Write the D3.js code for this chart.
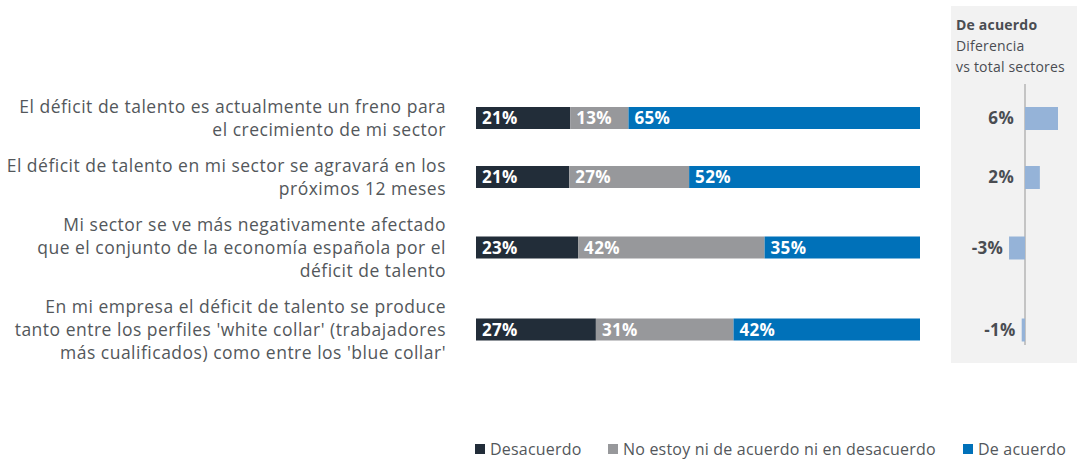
<!DOCTYPE html>
<html lang="es">
<head>
  <meta charset="UTF-8">
  <title>Déficit de talento</title>
  <script src="https://d3js.org/d3.v7.min.js"></script>
  <style>
    html, body {
      margin: 0;
      padding: 0;
      background: #fff;
    }
    svg text {
      font-family: "Open Sans", "Noto Sans", sans-serif;
    }
  </style>
</head>
<body>
  <div id="chart"></div>

  <script>
    // statements, one array of lines each
    const statements = [
      ["El déficit de talento es actualmente un freno para", "el crecimiento de mi sector"],
      ["El déficit de talento en mi sector se agravará en los", "próximos 12 meses"],
      ["Mi sector se ve más negativamente afectado", "que el conjunto de la economía española por el", "déficit de talento"],
      ["En mi empresa el déficit de talento se produce", "tanto entre los perfiles 'white collar' (trabajadores", "más cualificados) como entre los 'blue collar'"]
    ];
    const seriesNames = ["Desacuerdo", "No estoy ni de acuerdo ni en desacuerdo", "De acuerdo"];
    const desacuerdo = [21, 21, 23, 27];
    const neutral = [13, 27, 42, 31];
    const deAcuerdo = [65, 52, 35, 42];
    // "De acuerdo" difference vs all sectors (bar length estimated, label as printed)
    const diffValues = [6.0, 2.7, -2.9, -0.6];
    const diffLabels = ["6%", "2%", "-3%", "-1%"];

    const colors = ["#222d39", "#97989b", "#0071b9"];
    const textColor = "#53575b";

    const width = 1079, height = 460;
    const svg = d3.select("#chart").append("svg")
      .attr("width", width)
      .attr("height", height);

    // rows get taller with more label lines
    const lineH = 23, rowPad = 13;
    const rowH = statements.map(s => s.length * lineH + rowPad);
    const centers = [];
    let acc = 0;
    rowH.forEach((h, i) => { centers.push(acc + h / 2); acc += h; });
    const y = d3.scaleLinear().domain([0, centers[0]]).range([118 - centers[0], 118]);
    const barH = 22;

    const x = d3.scaleLinear().domain([0, 1]).range([476, 920]);

    const rows = statements.map((s, i) => {
      const vals = [desacuerdo[i], neutral[i], deAcuerdo[i]];
      const total = d3.sum(vals);
      let start = 0;
      const segs = vals.map((v, k) => {
        const seg = { k, v, x0: start / total, x1: (start + v) / total };
        start += v;
        return seg;
      });
      return { i, lines: s, segs, cy: y(centers[i]) };
    });

    // right panel background
    svg.append("rect")
      .attr("x", 951).attr("y", 6)
      .attr("width", 126).attr("height", 357)
      .attr("fill", "#f2f2f2");

    const head = svg.append("text")
      .attr("x", 956).attr("y", 30)
      .attr("font-size", 14)
      .attr("letter-spacing", 0.2)
      .attr("fill", "#4a4d52");
    head.append("tspan").attr("font-weight", "bold").text("De acuerdo");
    head.append("tspan").attr("x", 956).attr("dy", 21).text("Diferencia");
    head.append("tspan").attr("x", 956).attr("dy", 21).text("vs total sectores");

    // statement labels
    const labels = svg.selectAll(".label")
      .data(rows)
      .join("text")
      .attr("class", "label")
      .attr("text-anchor", "end")
      .attr("font-size", 17.5)
      .attr("letter-spacing", 0.5)
      .attr("fill", textColor);
    labels.selectAll("tspan")
      .data(d => d.lines.map((l, j) => ({ l, j, n: d.lines.length, cy: d.cy })))
      .join("tspan")
      .attr("x", 446)
      .attr("y", d => d.cy + 6 + (d.j - (d.n - 1) / 2) * lineH)
      .text(d => d.l);

    // stacked bars
    const row = svg.selectAll(".row")
      .data(rows)
      .join("g")
      .attr("class", "row");

    row.selectAll("rect")
      .data(d => d.segs.map(s => ({ ...s, cy: d.cy })))
      .join("rect")
      .attr("x", d => x(d.x0))
      .attr("y", d => d.cy - barH / 2)
      .attr("width", d => x(d.x1) - x(d.x0))
      .attr("height", barH)
      .attr("fill", d => colors[d.k]);

    row.selectAll("text")
      .data(d => d.segs.map(s => ({ ...s, cy: d.cy })))
      .join("text")
      .attr("x", d => x(d.x0) + 6)
      .attr("y", d => d.cy + 6)
      .attr("font-size", 17)
      .attr("letter-spacing", 0.3)
      .attr("font-weight", "bold")
      .attr("fill", "#fff")
      .text(d => d.v + "%");

    // difference panel
    const xd = d3.scaleLinear().domain([0, 6]).range([1025, 1058]);

    svg.append("line")
      .attr("x1", xd(0)).attr("x2", xd(0))
      .attr("y1", 84).attr("y2", 345)
      .attr("stroke", "#c4c4c4")
      .attr("stroke-width", 2);

    svg.selectAll(".diff")
      .data(rows)
      .join("rect")
      .attr("class", "diff")
      .attr("x", d => xd(Math.min(0, diffValues[d.i])))
      .attr("y", d => d.cy - barH / 2)
      .attr("width", d => Math.abs(xd(diffValues[d.i]) - xd(0)))
      .attr("height", barH + 1)
      .attr("fill", "#95b3d8");

    svg.selectAll(".diffLabel")
      .data(rows)
      .join("text")
      .attr("class", "diffLabel")
      .attr("text-anchor", "end")
      .attr("x", d => diffValues[d.i] >= 0 ? xd(0) - 11 : xd(diffValues[d.i]) - 6)
      .attr("y", d => d.cy + 6)
      .attr("font-size", 17)
      .attr("letter-spacing", 0.3)
      .attr("font-weight", "bold")
      .attr("fill", "#4a4d52")
      .text(d => diffLabels[d.i]);

    // legend
    const legendX = [475, 608, 963];
    const legend = svg.selectAll(".legend")
      .data(seriesNames)
      .join("g")
      .attr("class", "legend")
      .attr("transform", (d, i) => `translate(${legendX[i]},449)`);
    legend.append("rect")
      .attr("x", 0).attr("y", -5)
      .attr("width", 10).attr("height", 10)
      .attr("fill", (d, i) => colors[i]);
    legend.append("text")
      .attr("x", 15).attr("y", 5.5)
      .attr("font-size", 16)
      .attr("letter-spacing", 0.2)
      .attr("fill", textColor)
      .text(d => d);
  </script>
</body>
</html>
